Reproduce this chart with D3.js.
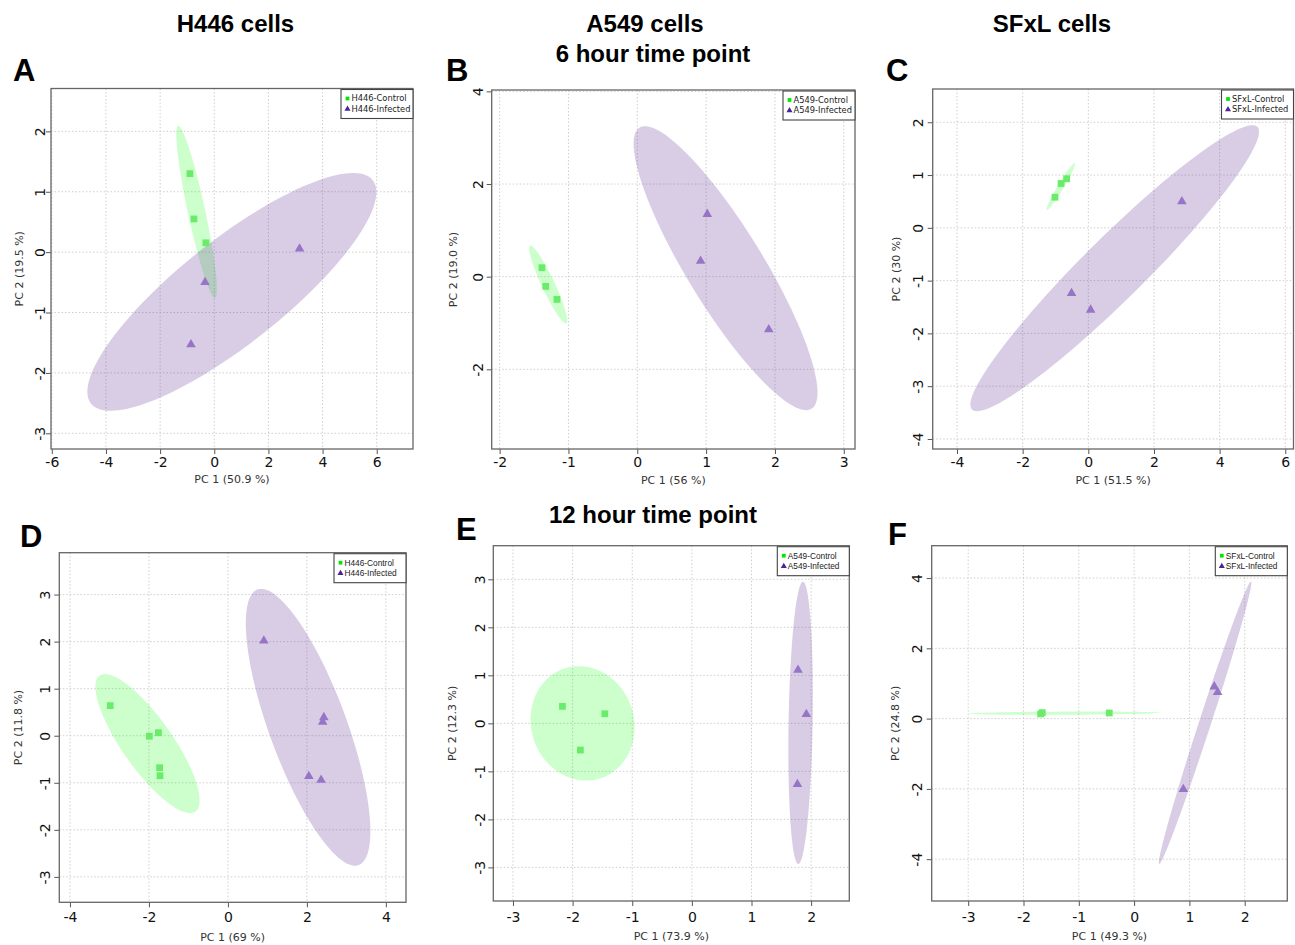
<!DOCTYPE html>
<html>
<head>
<meta charset="utf-8">
<script src="https://cdn.jsdelivr.net/npm/d3@7"></script>
<style>
  body { margin: 0; background: #fff; }
  svg { display: block; }
</style>
</head>
<body>
<svg id="fig" width="1295" height="945"></svg>
<script>
// ---- data ----
const groups = ["Control", "Infected"];
const cellLines = ["H446", "A549", "SFxL", "H446", "A549", "SFxL"];
const pc1Var = ["50.9", "56", "51.5", "69", "73.9", "49.3"];
const pc2Var = ["19.5", "19.0", "30", "11.8", "12.3", "24.8"];

// 6 hour time point
const ctrlA = [[-0.90, 1.30], [-0.75, 0.55], [-0.31, 0.155]];
const infA  = [[3.15, 0.055], [-0.34, -0.50], [-0.86, -1.53]];
const ctrlB = [[-1.385, 0.194], [-1.33, -0.21], [-1.167, -0.49]];
const infB  = [[1.017, 1.35], [0.92, 0.34], [1.91, -1.14]];
const ctrlC = [[-1.015, 0.58], [-0.83, 0.84], [-0.66, 0.93]];
const infC  = [[2.85, 0.50], [-0.51, -1.24], [0.07, -1.555]];
// 12 hour time point
const ctrlD = [[-2.98, 0.64], [-1.99, -0.01], [-1.76, 0.064], [-1.73, -0.68], [-1.72, -0.85]];
const infD  = [[0.91, 2.02], [2.43, 0.39], [2.40, 0.29], [2.05, -0.86], [2.36, -0.94]];
const ctrlE = [[-2.17, 0.354], [-1.46, 0.20], [-1.87, -0.556]];
const infE  = [[1.78, 1.11], [1.92, 0.19], [1.77, -1.27]];
const ctrlF = [[-1.69, 0.133], [-1.66, 0.17], [-0.45, 0.16]];
const infF  = [[1.45, 0.91], [1.51, 0.75], [0.89, -2.01]];

// axis limits and ticks
const xDomains = [[-6.03, 7.34], [-2.115, 3.163], [-4.74, 6.25], [-4.27, 4.51], [-3.33, 2.64], [-3.66, 2.77]];
const yDomains = [[-3.26, 2.71], [-3.72, 4.03], [-4.19, 2.63], [-3.54, 3.89], [-3.70, 3.70], [-5.19, 4.92]];
const xTicks = [[-6, -4, -2, 0, 2, 4, 6], [-2, -1, 0, 1, 2, 3], [-4, -2, 0, 2, 4, 6],
                [-4, -2, 0, 2, 4], [-3, -2, -1, 0, 1, 2], [-3, -2, -1, 0, 1, 2]];
const yTicks = [[-3, -2, -1, 0, 1, 2], [-2, 0, 2, 4], [-4, -3, -2, -1, 0, 1, 2],
                [-3, -2, -1, 0, 1, 2, 3], [-3, -2, -1, 0, 1, 2, 3], [-4, -2, 0, 2, 4]];

const controls = [ctrlA, ctrlB, ctrlC, ctrlD, ctrlE, ctrlF];
const infecteds = [infA, infB, infC, infD, infE, infF];

// ---- layout ----
const panels = [
  { letter: "A", box: [51, 88.5, 413, 449],     lx: [13, 81],   yl: 6,   yt: 28.5, xl: 18, xt: 34, legFont: "DejaVu Sans", legSize: 8.3 },
  { letter: "B", box: [491.7, 90, 855, 449],    lx: [446, 81],  yl: 8.5, yt: 35,   xl: 18, xt: 35, legFont: "DejaVu Sans", legSize: 8.3 },
  { letter: "C", box: [932.7, 89, 1293.5, 449], lx: [886, 81],  yl: 9.5, yt: 33,   xl: 18, xt: 35, legFont: "DejaVu Sans", legSize: 8.3 },
  { letter: "D", box: [59.3, 552.7, 406, 902.3],lx: [20, 547],  yl: 9.5, yt: 37,   xl: 20, xt: 39, legFont: "Liberation Sans", legSize: 8.3 },
  { letter: "E", box: [493.3, 545.7, 849.3, 901], lx: [456, 540], yl: 8.5, yt: 37, xl: 21, xt: 39, legFont: "Liberation Sans", legSize: 8.3 },
  { letter: "F", box: [931.7, 545.7, 1287.3, 901], lx: [888, 545], yl: 10, yt: 33, xl: 21, xt: 39, legFont: "Liberation Sans", legSize: 8.3 }
];

const ctrlFill = "#00ff00", infFill = "#663399";
const ctrlPoint = "#6aec6a", infPoint = "#9775c6";

const svg = d3.select("#fig");

// 95% confidence ellipse from the group covariance (chi-square, 2 df)
function ellipsePoints(pts, level) {
  const n = pts.length;
  const mx = d3.mean(pts, d => d[0]), my = d3.mean(pts, d => d[1]);
  let a = 0, b = 0, c = 0;
  pts.forEach(p => {
    const dx = p[0] - mx, dy = p[1] - my;
    a += dx * dx; b += dx * dy; c += dy * dy;
  });
  a /= (n - 1); b /= (n - 1); c /= (n - 1);
  const t = Math.sqrt(-2 * Math.log(1 - level));
  const h = (a + c) / 2, dd = Math.sqrt(((a - c) / 2) ** 2 + b * b);
  const l1 = h + dd, l2 = Math.max(h - dd, 0);
  const phi = 0.5 * Math.atan2(2 * b, a - c);
  return d3.range(0, 120).map(i => {
    const th = i / 120 * 2 * Math.PI;
    const u = t * Math.sqrt(l1) * Math.cos(th), v = t * Math.sqrt(l2) * Math.sin(th);
    return [mx + u * Math.cos(phi) - v * Math.sin(phi), my + u * Math.sin(phi) + v * Math.cos(phi)];
  });
}

// plain hyphen for negatives, like R
const fmt = d => String(d);

panels.forEach((p, i) => {
  const [x0, y0, x1, y1] = p.box;
  const x = d3.scaleLinear().domain(xDomains[i]).range([x0, x1]);
  const y = d3.scaleLinear().domain(yDomains[i]).range([y1, y0]);

  const g = svg.append("g").attr("class", "panel-" + p.letter);

  g.append("clipPath").attr("id", "clip" + i)
    .append("rect").attr("x", x0).attr("y", y0).attr("width", x1 - x0).attr("height", y1 - y0);

  // dotted grid
  g.append("g").selectAll("line")
    .data(xTicks[i]).enter().append("line")
    .attr("x1", d => x(d)).attr("x2", d => x(d))
    .attr("y1", y0).attr("y2", y1)
    .attr("stroke", "#cfcfcf").attr("stroke-dasharray", "1.5,2").attr("stroke-width", 1);
  g.append("g").selectAll("line")
    .data(yTicks[i]).enter().append("line")
    .attr("y1", d => y(d)).attr("y2", d => y(d))
    .attr("x1", x0).attr("x2", x1)
    .attr("stroke", "#cfcfcf").attr("stroke-dasharray", "1.5,2").attr("stroke-width", 1);

  // ellipses
  const line = d3.line().x(d => x(d[0])).y(d => y(d[1])).curve(d3.curveLinearClosed);
  const ell = g.append("g").attr("clip-path", "url(#clip" + i + ")");
  ell.append("path").attr("d", line(ellipsePoints(controls[i], 0.95)))
    .attr("fill", ctrlFill).attr("fill-opacity", 0.2);
  ell.append("path").attr("d", line(ellipsePoints(infecteds[i], 0.95)))
    .attr("fill", infFill).attr("fill-opacity", 0.25);

  // points
  g.append("g").selectAll("path")
    .data(controls[i]).enter().append("path")
    .attr("transform", d => `translate(${x(d[0])},${y(d[1])})`)
    .attr("d", d3.symbol(d3.symbolSquare, 46))
    .attr("fill", ctrlPoint);
  g.append("g").selectAll("path")
    .data(infecteds[i]).enter().append("path")
    .attr("transform", d => `translate(${x(d[0])},${y(d[1])})`)
    .attr("d", d3.symbol(d3.symbolTriangle, 40))
    .attr("fill", infPoint);

  // axes
  const xAxis = g.append("g")
    .attr("transform", `translate(0,${y1})`)
    .call(d3.axisBottom(x).tickValues(xTicks[i]).tickSize(5).tickSizeOuter(0).tickFormat(fmt));
  xAxis.select(".domain").remove();
  xAxis.selectAll("line").attr("stroke", "#555");
  xAxis.selectAll("text")
    .attr("y", p.xl).attr("dy", 0)
    .attr("font-family", "DejaVu Sans").attr("font-size", 14).attr("fill", "#111");

  const yAxis = g.append("g")
    .attr("transform", `translate(${x0},0)`)
    .call(d3.axisLeft(y).tickValues(yTicks[i]).tickSize(5).tickSizeOuter(0).tickFormat(fmt));
  yAxis.select(".domain").remove();
  yAxis.selectAll("line").attr("stroke", "#555");
  yAxis.selectAll("text")
    .attr("x", 0).attr("y", 0).attr("dy", 0)
    .attr("text-anchor", "middle")
    .attr("transform", `translate(${-p.yl},0) rotate(-90)`)
    .attr("font-family", "DejaVu Sans").attr("font-size", 14).attr("fill", "#111");

  // frame
  g.append("rect")
    .attr("x", x0).attr("y", y0).attr("width", x1 - x0).attr("height", y1 - y0)
    .attr("fill", "none").attr("stroke", "#666").attr("stroke-width", 1.3);

  // axis titles
  g.append("text")
    .attr("x", (x0 + x1) / 2).attr("y", y1 + p.xt)
    .attr("text-anchor", "middle")
    .attr("font-family", "DejaVu Sans").attr("font-size", 11).attr("fill", "#333")
    .text(`PC 1 (${pc1Var[i]} %)`);
  g.append("text")
    .attr("transform", `translate(${x0 - p.yt},${(y0 + y1) / 2}) rotate(-90)`)
    .attr("text-anchor", "middle")
    .attr("font-family", "DejaVu Sans").attr("font-size", 11).attr("fill", "#333")
    .text(`PC 2 (${pc2Var[i]} %)`);

  // legend, top-right inside the frame
  const lw = 72, lh = 29;
  const leg = g.append("g").attr("transform", `translate(${x1 - lw},${y0 + 1})`);
  leg.append("rect").attr("width", lw).attr("height", lh)
    .attr("fill", "#fff").attr("stroke", "#444").attr("stroke-width", 1.1);
  groups.forEach((grp, k) => {
    const ry = 9 + k * 10.5;
    leg.append("path")
      .attr("transform", `translate(6.5,${ry})`)
      .attr("d", d3.symbol(k === 0 ? d3.symbolSquare : d3.symbolTriangle, k === 0 ? 14 : 16))
      .attr("fill", k === 0 ? "#00e600" : "#4b2396");
    leg.append("text")
      .attr("x", 10.5).attr("y", ry).attr("dy", "0.35em")
      .attr("font-family", p.legFont).attr("font-size", p.legSize).attr("fill", "#222")
      .text(`${cellLines[i]}-${grp}`);
  });

  // panel letter
  svg.append("text")
    .attr("x", p.lx[0]).attr("y", p.lx[1])
    .attr("font-family", "Liberation Sans, Arial, sans-serif").attr("font-weight", "bold")
    .attr("font-size", 31).attr("fill", "#000")
    .text(p.letter);
});

// column and row headings
const headings = [
  { text: "H446 cells", x: 235.5, y: 32 },
  { text: "A549 cells", x: 645, y: 32 },
  { text: "6 hour time point", x: 653, y: 62 },
  { text: "SFxL cells", x: 1052, y: 32 },
  { text: "12 hour time point", x: 653, y: 523 }
];
svg.selectAll("text.heading")
  .data(headings).enter().append("text")
  .attr("class", "heading")
  .attr("x", d => d.x).attr("y", d => d.y)
  .attr("text-anchor", "middle")
  .attr("font-family", "Liberation Sans, Arial, sans-serif").attr("font-weight", "bold")
  .attr("font-size", 24).attr("fill", "#000")
  .text(d => d.text);
</script>
</body>
</html>
